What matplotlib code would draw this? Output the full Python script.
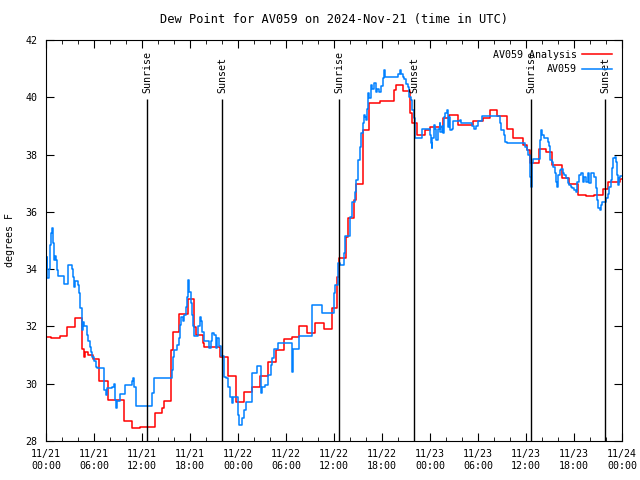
import pandas as pd
import matplotlib
matplotlib.use("Agg")
import matplotlib.pyplot as plt
import matplotlib.dates as mdates

plt.rcParams['font.family'] = ['DejaVu Sans Mono']
plt.rcParams['font.size'] = 7.2

start = pd.Timestamp('2024-11-21 00:00')

# analysis (hourly-ish steps): hours since start, deg F
red_h = [0, 0.6, 1.75, 2.6, 3.6, 4.5, 4.7, 4.9, 5.2, 5.9, 6.6, 7.7, 9.7, 10.7, 11.75,
         13.6, 14.5, 14.8, 15.6, 15.9, 16.6, 17.8, 18.5, 18.8, 19.6, 19.75, 21.7, 22.8,
         23.75, 24.7, 25.7, 26.7, 27.7, 28.8, 29.75, 30.75, 31.6, 32.6, 33.6, 34.75, 35.7,
         36.4, 36.6, 37.5, 37.8, 38.5, 38.8, 39.6, 40.4, 41.7, 43.5, 43.75, 44.6, 45.5,
         45.8, 46.4, 47.4, 48.0, 49.6, 50.4, 51.5, 53.4, 54.6, 55.5, 56.4, 57.6, 58.4,
         59.6, 60.1, 60.5, 61.6, 62.5, 63.3, 64.5, 65.4, 66.5, 67.5, 68.5, 69.6, 70.3,
         71.7, 72]
red_v = [31.62, 31.58, 31.65, 31.99, 32.28, 31.2, 30.95, 31.1, 31.0, 30.85, 30.08, 29.43,
         28.69, 28.45, 28.49, 28.99, 29.15, 29.39, 31.18, 31.79, 32.43, 32.95, 31.99, 31.70,
         31.41, 31.27, 30.94, 30.28, 29.37, 29.70, 29.90, 30.27, 30.77, 31.18, 31.56, 31.64,
         32.01, 31.76, 32.13, 31.91, 32.63, 33.74, 34.38, 35.13, 35.77, 36.41, 36.99, 38.86,
         39.79, 39.88, 40.25, 40.43, 40.23, 39.44, 39.09, 38.68, 38.86, 38.97, 39.27, 39.38,
         39.03, 39.18, 39.27, 39.56, 39.35, 38.88, 38.57, 38.33, 38.16, 37.70, 38.18, 38.08,
         37.64, 37.17, 36.99, 36.58, 36.55, 36.58, 36.79, 37.05, 37.15, 37.15]

# observations
blue_h = [0, 0.08, 0.17, 0.35, 0.5, 0.67, 0.8, 0.92, 1.0, 1.1, 1.25, 1.4, 1.5, 2.2, 2.3,
          2.75, 3.2, 3.35, 3.5, 3.65, 4.0, 4.17, 4.3, 4.5, 4.6, 4.8, 5.1, 5.3, 5.5, 5.65,
          5.8, 6.0, 6.2, 6.4, 7.2, 7.3, 7.45, 7.6, 8.3, 8.5, 8.6, 8.75, 8.9, 9.25, 9.9,
          10.75, 10.9, 11.0, 11.2, 11.3, 13.3, 13.5, 15.7, 15.85, 16.0, 16.4, 16.6, 16.8,
          16.9, 17.1, 17.2, 17.5, 17.6, 17.7, 17.8, 17.9, 18.1, 18.2, 18.4, 18.5, 19.0,
          19.2, 19.4, 19.5, 19.75, 20.4, 20.6, 20.7, 21.0, 21.2, 21.4, 21.6, 21.85, 22.25,
          22.5, 22.7, 23.0, 23.2, 23.4, 23.8, 23.95, 24.1, 24.35, 24.5, 24.75, 25.0, 25.7,
          26.4, 26.9, 27.0, 27.4, 27.8, 28.1, 28.3, 28.5, 29.0, 30.6, 30.7, 30.8, 30.9,
          31.6, 33.2, 33.3, 34.5, 35.8, 35.95, 36.1, 36.25, 36.45, 36.75, 37.3, 37.4, 38.0,
          38.3, 38.6, 38.8, 39.0, 39.2, 39.4, 39.6, 39.8, 39.9, 40.0, 40.1, 40.3, 40.4,
          40.6, 40.8, 41.0, 41.2, 41.4, 41.6, 41.9, 42.1, 42.2, 42.4, 43.75, 44.0, 44.2,
          44.4, 44.6, 44.8, 45.0, 45.2, 45.4, 45.6, 45.8, 46.0, 46.1, 46.15, 46.75, 47.0,
          47.8, 47.95, 48.1, 48.2, 48.3, 48.5, 48.6, 48.8, 48.95, 49.2, 49.3, 49.5, 49.6,
          49.75, 49.9, 50.1, 50.2, 50.4, 50.5, 50.8, 50.9, 51.5, 51.7, 51.9, 53.2, 53.3,
          53.5, 53.8, 54.0, 54.5, 56.5, 56.7, 56.9, 57.2, 57.4, 57.6, 59.7, 59.9, 60.1,
          60.3, 60.5, 60.55, 60.6, 60.75, 60.9, 61.6, 61.75, 61.9, 62.0, 62.2, 62.7, 62.9,
          63.0, 63.25, 63.4, 63.6, 63.8, 63.9, 64.05, 64.2, 64.4, 64.6, 64.8, 65.0, 65.2,
          65.4, 65.6, 65.8, 66.0, 66.25, 66.4, 66.6, 66.9, 67.1, 67.3, 67.5, 67.7, 67.9,
          68.1, 68.3, 68.55, 68.7, 68.85, 69.0, 69.2, 69.4, 69.5, 69.8, 70.0, 70.2, 70.4,
          70.6, 70.8, 70.9, 71.1, 71.25, 71.4, 71.5, 71.6, 71.75, 72.0]
blue_v = [34.0, 34.41, 33.69, 34.0, 34.84, 35.25, 35.42, 34.9, 34.32, 34.45, 34.32, 33.97,
          33.76, 33.65, 33.48, 34.14, 34.0, 33.74, 33.39, 33.6, 33.45, 33.16, 32.63, 31.88,
          32.17, 32.0, 31.70, 31.5, 31.29, 31.1, 30.94, 30.8, 30.59, 30.55, 30.30, 29.78,
          29.6, 29.84, 29.9, 30.0, 29.43, 29.14, 29.4, 29.64, 29.96, 30.08, 30.19, 29.9,
          29.5, 29.22, 29.66, 30.19, 30.48, 30.92, 31.18, 31.35, 31.59, 32.05, 32.34, 32.2,
          32.4, 32.69, 33.04, 33.39, 33.62, 33.21, 32.81, 32.40, 32.0, 31.67, 32.0, 32.34,
          32.2, 31.82, 31.5, 31.24, 31.5, 31.76, 31.7, 31.24, 31.6, 31.3, 30.97, 30.25,
          30.2, 29.9, 29.55, 29.31, 29.55, 29.55, 28.91, 28.56, 28.56, 28.8, 29.08, 29.37,
          30.36, 30.62, 29.66, 29.9, 29.95, 30.30, 30.65, 30.89, 31.2, 31.43, 31.43, 31.0,
          30.42, 31.2, 31.67, 31.67, 32.75, 32.46, 32.46, 33.16, 33.45, 33.45, 34.2, 34.14,
          34.55, 35.16, 35.83, 36.35, 36.70, 37.11, 37.81, 38.27, 38.74, 39.1, 39.38, 39.3,
          39.2, 39.6, 40.14, 39.97, 40.43, 40.3, 40.51, 40.2, 40.3, 40.2, 40.4, 40.66,
          40.95, 40.72, 40.72, 40.81, 40.95, 40.81, 40.72, 40.65, 40.46, 40.35, 40.02, 39.9,
          39.56, 39.27, 38.8, 38.57, 38.57, 38.88, 38.88, 38.7, 38.39, 38.22, 38.57, 39.03,
          38.88, 38.51, 38.88, 39.1, 38.8, 39.0, 38.75, 39.32, 39.45, 39.56, 38.98, 39.3,
          38.86, 38.9, 39.17, 39.17, 39.2, 39.1, 39.1, 39.0, 38.88, 39.0, 39.17, 39.35,
          39.35, 39.09, 38.86, 38.68, 38.45, 38.39, 38.39, 38.28, 38.16, 38.0, 37.81, 37.23,
          36.88, 37.7, 37.83, 37.83, 38.51, 38.86, 38.7, 38.57, 38.45, 38.3, 37.81, 37.75,
          37.58, 37.35, 37.05, 36.88, 37.3, 37.46, 37.5, 37.35, 37.3, 37.17, 37.0, 36.93,
          36.88, 36.82, 36.76, 36.7, 37.05, 37.29, 37.35, 37.05, 37.23, 37.05, 37.35, 37.0,
          37.35, 37.35, 37.23, 36.82, 36.41, 36.12, 36.06, 36.23, 36.35, 36.35, 36.47, 36.64,
          36.88, 37.11, 37.52, 37.87, 37.93, 37.75, 37.29, 36.93, 37.17, 37.25, 37.25]

# sunrise / sunset, hours since start
event_h = [12.67, 22.03, 36.67, 46.03, 60.67, 69.92]
event_lbl = ['Sunrise', 'Sunset', 'Sunrise', 'Sunset', 'Sunrise', 'Sunset']

def to_time(hours):
    return start + pd.to_timedelta(hours, unit='h')

fig = plt.figure(figsize=(6.4, 4.8), dpi=100)
ax = fig.add_axes([46/640, 1 - 441/480, 576/640, 401/480])

ax.plot(to_time(red_h), red_v, color='#ff0000', lw=1.1, drawstyle='steps-post',
        label='AV059 Analysis')
ax.plot(to_time(blue_h), blue_v, color='#0080ff', lw=1.1, drawstyle='steps-post',
        label='AV059')

ev_t = to_time(event_h)
ax.vlines(ev_t, 28, 39.95, color='black', lw=1)
for t, s in zip(ev_t, event_lbl):
    ax.text(t, 40.15, s, rotation=90, ha='center', va='bottom')

ax.set_xlim(start, to_time(72))
ax.set_ylim(28, 42)
ax.set_yticks(range(28, 43, 2))
ax.xaxis.set_major_locator(mdates.HourLocator(byhour=[0, 6, 12, 18]))
ax.xaxis.set_minor_locator(mdates.HourLocator(byhour=[2, 4, 8, 10, 14, 16, 20, 22]))
ax.xaxis.set_major_formatter(mdates.DateFormatter('%m/%d\n%H:%M'))
ax.tick_params(which='major', direction='in', length=6, top=True, right=True, pad=6)
ax.tick_params(which='minor', direction='in', length=3, top=True, right=True)
ax.set_ylabel('degrees F', labelpad=8)
ax.set_title('Dew Point for AV059 on 2024-Nov-21 (time in UTC)', pad=12)

ax.legend(loc='upper right', frameon=False, markerfirst=False,
          handlelength=3.0, handletextpad=0.5, labelspacing=0.45,
          borderaxespad=0.6, bbox_to_anchor=(1.0, 1.0))

fig.savefig('out.png', dpi=100)
